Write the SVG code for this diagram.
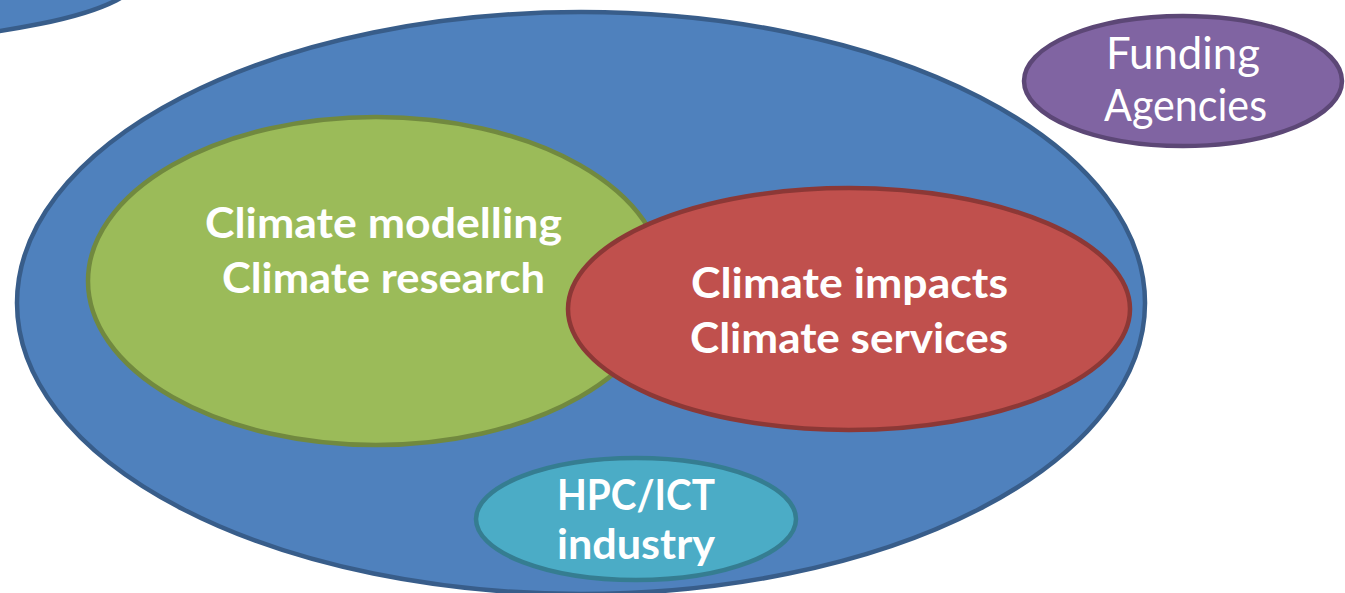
<svg xmlns="http://www.w3.org/2000/svg" width="1345" height="593" viewBox="0 0 1345 593">
  <style>
    .blue   { fill: #4F81BD; stroke: #385D8A; stroke-width: 4.5; }
    .green  { fill: #9BBB59; stroke: #71893F; stroke-width: 4.5; }
    .red    { fill: #C0504D; stroke: #8C3836; stroke-width: 4.5; }
    .teal   { fill: #4BACC6; stroke: #357D91; stroke-width: 4.5; }
    .purple { fill: #8064A2; stroke: #5C4776; stroke-width: 4.5; }
    .label  { fill: #FFFFFF; font-family: Lato, "Open Sans", "Liberation Sans", sans-serif; font-size: 42px; font-weight: bold; }
    .plain  { fill: #FFFFFF; font-family: Lato, "Open Sans", "Liberation Sans", sans-serif; font-size: 44px; font-weight: normal; }
  </style>
  <rect width="1345" height="593" fill="#FFFFFF"/>

  <!-- neighbouring community, mostly off the top-left edge -->
  <g id="offscreen-community">
    <ellipse class="blue" cx="-200" cy="-25" rx="340" ry="69"/>
  </g>

  <!-- the enclosing community -->
  <g id="community">
    <ellipse class="blue" cx="581" cy="303" rx="564" ry="291"/>
  </g>

  <g id="climate-research">
    <ellipse class="green" cx="376" cy="281" rx="288" ry="164"/>
    <text class="label" x="205" y="238" textLength="357" lengthAdjust="spacingAndGlyphs">Climate modelling</text>
    <text class="label" x="222" y="293" textLength="323" lengthAdjust="spacingAndGlyphs">Climate research</text>
  </g>

  <g id="climate-services">
    <ellipse class="red" cx="849" cy="309" rx="281" ry="121"/>
    <text class="label" x="691" y="298" textLength="317" lengthAdjust="spacingAndGlyphs">Climate impacts</text>
    <text class="label" x="690" y="353" textLength="318" lengthAdjust="spacingAndGlyphs">Climate services</text>
  </g>

  <g id="hpc-industry">
    <ellipse class="teal" cx="636" cy="519" rx="160" ry="61"/>
    <text class="label" x="557" y="510" textLength="158" lengthAdjust="spacingAndGlyphs">HPC/ICT</text>
    <text class="label" x="557" y="559" textLength="158" lengthAdjust="spacingAndGlyphs">industry</text>
  </g>

  <g id="funding-agencies">
    <ellipse class="purple" cx="1183" cy="81" rx="159" ry="65"/>
    <text class="plain" x="1106" y="69" textLength="154" lengthAdjust="spacingAndGlyphs">Funding</text>
    <text class="plain" x="1104" y="121" textLength="163" lengthAdjust="spacingAndGlyphs">Agencies</text>
  </g>

  <!-- no connectors in this diagram -->
  <g id="connectors"/>
</svg>
